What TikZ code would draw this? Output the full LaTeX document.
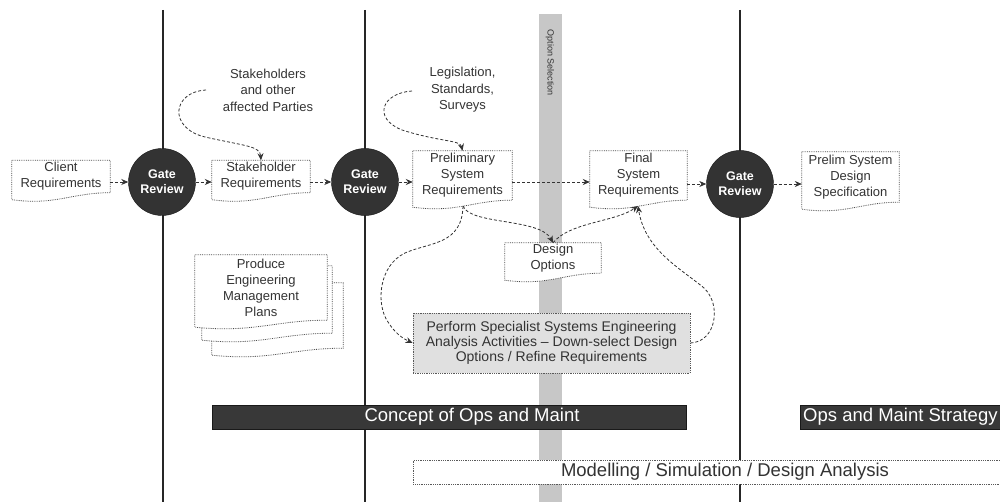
\documentclass[tikz,border=0pt]{standalone}
\usepackage{fontspec}
\setmainfont{Liberation Sans}
\usetikzlibrary{arrows.meta,calc}
\pgfdeclarelayer{bg}
\pgfdeclarelayer{mid}
\pgfsetlayers{bg,mid,main}

\tikzset{
  vline/.style={line width=2.6pt, draw=black!85},
  gate/.style={circle, fill=black!80, draw=black!90, minimum size=67pt, inner sep=0pt,
    text=white, font=\fontsize{12.5}{15}\selectfont\bfseries, align=center},
  doc/.style={draw=none, inner sep=0pt, align=center, text=black!80,
    font=\fontsize{13}{16}\selectfont},
  docline/.style={draw=black!70, densely dotted, line width=0.8pt, fill=white},
  conn/.style={draw=black!80, densely dashed, line width=0.8pt,
    -{Stealth[length=7pt,width=6pt]}},
  note/.style={align=center, text=black!80, font=\fontsize{13}{16.5}\selectfont},
  bar/.style={fill=black!78, draw=black!90, inner sep=0pt},
  bartext/.style={text=white, font=\fontsize{18.5}{20}\selectfont, inner sep=0pt},
  boxline/.style={draw=black!65, densely dotted, line width=0.8pt},
}

\newcommand{\docshape}[1]{%
  \path[docline] (#1.north west) -- (#1.north east) -- (#1.south east)
    .. controls ($(#1.south east)!0.4!(#1.south west)$)
       and ($(#1.south east)!0.55!(#1.south west)+(0,13)$)
    .. ($(#1.south west)+(0,7)$) -- cycle;
}

\begin{document}
\begin{tikzpicture}[x=1pt,y=-1pt]
\useasboundingbox (0,0) rectangle (1000,502);

% background: vertical lines and option-selection band
\begin{pgfonlayer}{bg}
  \fill[black!22] (539,14) rectangle (562,502);
  \draw[vline] (163,10) -- (163,502);
  \draw[vline] (365,10) -- (365,502);
  \draw[vline] (740,10) -- (740,502);
\end{pgfonlayer}
\node[rotate=-90, text=black!80, font=\fontsize{9}{10}\selectfont] (opt) at (550,63) {Option Selection};

% gate reviews
\node[gate] (gate1) at (162,182) {Gate\\Review};
\node[gate] (gate2) at (365,182) {Gate\\Review};
\node[gate] (gate3) at (740,184) {Gate\\Review};

% documents
\node[doc, minimum width=98pt, minimum height=32pt] (client) at (61,176.5) {Client\\Requirements};
\node[doc, minimum width=98pt, minimum height=32pt] (stkreq) at (261,176.5) {Stakeholder\\Requirements};
\node[doc, minimum width=99pt, minimum height=49pt] (prelim) at (462.5,175.5) {Preliminary\\System\\Requirements};
\node[doc, minimum width=97pt, minimum height=49pt] (final) at (638.5,175.5) {Final\\System\\Requirements};
\node[doc, minimum width=97pt, minimum height=50pt] (spec) at (850.5,177) {Prelim System\\Design\\Specification};
\node[doc, minimum width=96pt, minimum height=30pt] (design) at (553,258) {Design\\Options};
\node[doc, minimum width=131pt, minimum height=65pt] (plans3) at (277.5,315.5) {};
\node[doc, minimum width=130pt, minimum height=67pt] (plans2) at (267,299.5) {};
\node[doc, minimum width=132pt, minimum height=65pt] (plans) at (261,287.5) {Produce\\Engineering\\Management\\Plans};

\begin{pgfonlayer}{mid}
  \docshape{client}
  \docshape{stkreq}
  \docshape{prelim}
  \docshape{final}
  \docshape{spec}
  \docshape{design}
  \docshape{plans3}
  \docshape{plans2}
  \docshape{plans}
\end{pgfonlayer}

% specialist analysis box
\node[boxline, fill=black!12, minimum width=277pt, minimum height=60pt, inner sep=0pt,
  align=center, text=black!80, font=\fontsize{14}{15}\selectfont] (perform) at (551.5,343)
  {Perform Specialist Systems Engineering\\Analysis Activities -- Down-select Design\\Options / Refine Requirements};

% annotations
\node[note] (stk) at (268,90) {Stakeholders\\and other\\affected Parties};
\node[note] (leg) at (462.5,90) {Legislation,\\Standards,\\Surveys};
\coordinate (stkA) at (206,90);
\coordinate (legA) at (412,91);
\coordinate (prelimB) at (463,206);
\coordinate (finalB) at (638,206);

% bars
\node[bar, minimum width=474pt, minimum height=24pt, anchor=north west] (conops) at (212,405) {};
\node[bartext] (conopsT) at (472,417) {Concept of Ops and Maint};
\node[bar, minimum width=202pt, minimum height=24pt, anchor=north west] (opsbar) at (800,405) {};
\node[bartext, anchor=west] (opsT) at (803,417) {Ops and Maint Strategy};
\node[boxline, fill=white, minimum width=590pt, minimum height=24pt, anchor=north west, inner sep=0pt] (model) at (413,460) {};
\node[text=black!80, font=\fontsize{18.5}{20}\selectfont, inner sep=0pt] (modelT) at (725,472) {Modelling / Simulation / Design Analysis};

% main flow
\draw[conn] (client.east |- gate1) -- (gate1);
\draw[conn] (gate1) -- (gate1 -| stkreq.west);
\draw[conn] (stkreq.east |- gate2) -- (gate2);
\draw[conn] (gate2) -- (gate2 -| prelim.west);
\draw[conn] (prelim.east |- gate2) -- (final.west |- gate2);
\draw[conn] (final.east |- gate3) -- (gate3);
\draw[conn] (gate3) -- (gate3 -| spec.west);

% curved inputs
\draw[conn] (stkA) .. controls (172,92) and (168,128) .. (205,137)
  .. controls (245,146) and (260,146) .. (stkreq.north);
\draw[conn] (legA) .. controls (382,93) and (372,118) .. (402,130)
  .. controls (440,142) and (460,140) .. (prelim.north);

% design loop
\draw[conn] (prelimB) .. controls (470,225) and (540,218) .. (design.north);
\draw[conn] (design.north) .. controls (570,222) and (615,222) .. (finalB);
\draw[conn] (prelimB) .. controls (462,245) and (430,242) .. (405,253)
  .. controls (378,266) and (376,305) .. (388,322)
  .. controls (395,333) and (402,338) .. (perform.west);
\draw[conn] (perform.east) .. controls (716,342) and (722,305) .. (704,288)
  .. controls (680,268) and (645,250) .. (finalB);
\end{tikzpicture}
\end{document}
